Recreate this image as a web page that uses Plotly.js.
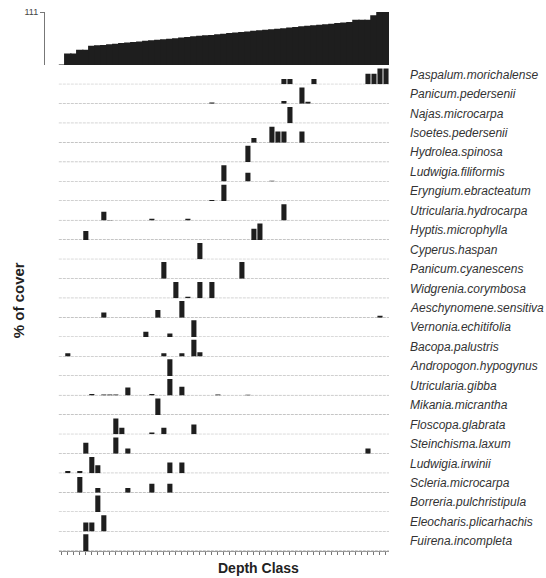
<!DOCTYPE html>
<html><head><meta charset="utf-8">
<script src="https://cdn.plot.ly/plotly-3.0.1.min.js"></script>
<style>html,body{margin:0;padding:0;background:#fff}#chart{width:546px;height:578px}</style>
</head><body><div id="chart"></div>
<script>
// Depth classes (x categories)
const depthClass = Array.from({length: 55}, (_, i) => i + 1);
// Maximum depth per class (top panel)
const maxDepth = [1, 24, 24, 32, 32, 40, 41, 42, 43.5, 44.5, 46, 47, 48, 49, 50.5, 51.5, 53, 54, 55, 56,
  57.5, 58.5, 60, 61, 62, 63, 64.5, 65.5, 67, 68, 69, 70, 71.5, 72.5, 74, 75, 76, 77, 78.5, 79.5,
  81, 82, 83, 84, 85.5, 86.5, 88, 89, 90, 95, 95, 95, 104, 111, 111];
const maxDepthTick = [111];

const species = [
  'Paspalum.morichalense', 'Panicum.pedersenii', 'Najas.microcarpa', 'Isoetes.pedersenii',
  'Hydrolea.spinosa', 'Ludwigia.filiformis', 'Eryngium.ebracteatum', 'Utricularia.hydrocarpa',
  'Hyptis.microphylla', 'Cyperus.haspan', 'Panicum.cyanescens', 'Widgrenia.corymbosa',
  'Aeschynomene.sensitiva', 'Vernonia.echitifolia', 'Bacopa.palustris', 'Andropogon.hypogynus',
  'Utricularia.gibba', 'Mikania.micrantha', 'Floscopa.glabrata', 'Steinchisma.laxum',
  'Ludwigia.irwinii', 'Scleria.microcarpa', 'Borreria.pulchristipula', 'Eleocharis.plicarhachis',
  'Fuirena.incompleta'
];
// depth classes where each species occurs
const speciesClass = [
  [38, 39, 43, 52, 53, 54, 55],
  [26, 38, 41, 42],
  [39],
  [33, 36, 37, 38, 41],
  [32],
  [28, 32, 36],
  [26, 28],
  [8, 9, 16, 22, 38],
  [5, 33, 34],
  [24],
  [18, 31],
  [20, 22, 24, 26],
  [8, 17, 21, 54],
  [15, 19, 23],
  [2, 18, 21, 23, 24],
  [19],
  [6, 8, 9, 10, 12, 16, 19, 21, 27, 32],
  [17],
  [10, 11, 16, 18, 23],
  [5, 10, 12, 52],
  [2, 4, 6, 7, 19, 21],
  [4, 7, 12, 16, 19],
  [7],
  [5, 6, 8],
  [5]
];
// % of cover at those classes
const speciesCover = [
  [27, 27, 27, 54, 54, 82, 82],
  [7, 15, 84, 10],
  [84],
  [24, 82, 57, 57, 57],
  [84],
  [84, 46, 4],
  [5, 84],
  [45, 3, 9, 9, 84],
  [46, 58, 84],
  [84],
  [86, 87],
  [84, 7, 84, 84],
  [26, 40, 86, 10],
  [27, 19, 87],
  [17, 17, 17, 86, 22],
  [86],
  [7, 5, 5, 5, 41, 7, 84, 45, 5, 4],
  [84],
  [82, 34, 10, 34, 51],
  [57, 84, 27, 27],
  [12, 12, 84, 41, 55, 55],
  [81, 24, 24, 46, 46],
  [86],
  [46, 46, 84],
  [86]
];

const W = 546, H = 578;
const axisX = 44, plotLeft = 58.8, plotRight = 388.8, plotTop = 12, plotBottom = 550.6;
const rowH = (plotBottom - 84.3) / 24;
const ph = plotBottom - plotTop, pw = plotRight - axisX;
const n = species.length;
const barColor = '#1e1e1e';
const fontFam = '"Liberation Sans", Arial, sans-serif';

const traces = [{
  type: 'bar', x: depthClass, y: maxDepth, xaxis: 'x', yaxis: 'y', width: 1.25,
  marker: {color: barColor, line: {width: 0}}, hoverinfo: 'skip'
}];
const layout = {
  width: W, height: H, showlegend: false, barmode: 'overlay',
  paper_bgcolor: '#fff', plot_bgcolor: 'rgba(0,0,0,0)',
  margin: {l: axisX, r: W - plotRight, t: plotTop, b: H - plotBottom, pad: 0},
  font: {family: fontFam},
  xaxis: {
    domain: [(plotLeft - axisX) / pw, 1], range: [0.5, 55.5], anchor: 'y' + (n + 1),
    tickvals: depthClass, ticks: 'outside', ticklen: 3, tickwidth: 1, tickcolor: '#777',
    showticklabels: false, showgrid: false, zeroline: false,
    showline: true, linecolor: '#999', linewidth: 1
  },
  yaxis: {
    domain: [n * rowH / ph, 1], range: [0, 111], anchor: 'free', position: 0,
    tickvals: maxDepthTick, ticktext: maxDepthTick.map(String), ticks: 'outside', ticklen: 4,
    tickcolor: '#777', tickfont: {size: 9, color: '#444'}, showgrid: false, zeroline: false,
    showline: true, linecolor: '#777', linewidth: 1
  },
  shapes: [], annotations: []
};

for (let k = 0; k < n; k++) {
  const ax = 'y' + (k + 2);
  const yBase = plotBottom - (n - 1 - k) * rowH;
  const d0 = (plotBottom - yBase) / ph;
  const d1 = Math.min(1, (plotBottom - yBase + rowH) / ph);
  layout['yaxis' + (k + 2)] = {
    domain: [d0, d1], range: [0, 100], anchor: 'x', showgrid: false, zeroline: false,
    showticklabels: false, ticks: '', showline: false
  };
  traces.push({
    type: 'bar', x: speciesClass[k], y: speciesCover[k], xaxis: 'x', yaxis: ax, width: 0.85,
    marker: {color: barColor, line: {width: 0}}, hoverinfo: 'skip'
  });
  layout.shapes.push({
    type: 'line', xref: 'x domain', x0: 0, x1: 1, yref: ax, y0: 0, y1: 0, layer: 'below',
    line: {color: '#a0a0a0', width: 1, dash: '3px,1px'}
  });
  layout.annotations.push({
    xref: 'paper', x: (408 - axisX) / pw, xanchor: 'left', yref: ax + ' domain', y: 0.5, yanchor: 'middle',
    text: species[k], showarrow: false,
    font: {family: fontFam, size: 12, style: 'italic', color: '#333'}
  });
}
// axis titles
layout.annotations.push({
  xref: 'paper', x: (18 - axisX) / pw, xanchor: 'center', yref: 'paper', y: (plotBottom - 300) / ph,
  yanchor: 'middle', textangle: -90, text: '<b>% of cover</b>', showarrow: false,
  font: {family: fontFam, size: 15, color: '#222'}
});
layout.annotations.push({
  xref: 'paper', x: (258 - axisX) / pw, xanchor: 'center', yref: 'paper', y: (plotBottom - 568) / ph,
  yanchor: 'middle', text: '<b>Depth Class</b>', showarrow: false,
  font: {family: fontFam, size: 14, color: '#222'}
});

Plotly.newPlot('chart', traces, layout, {staticPlot: true, displayModeBar: false});
</script>
</body></html>
